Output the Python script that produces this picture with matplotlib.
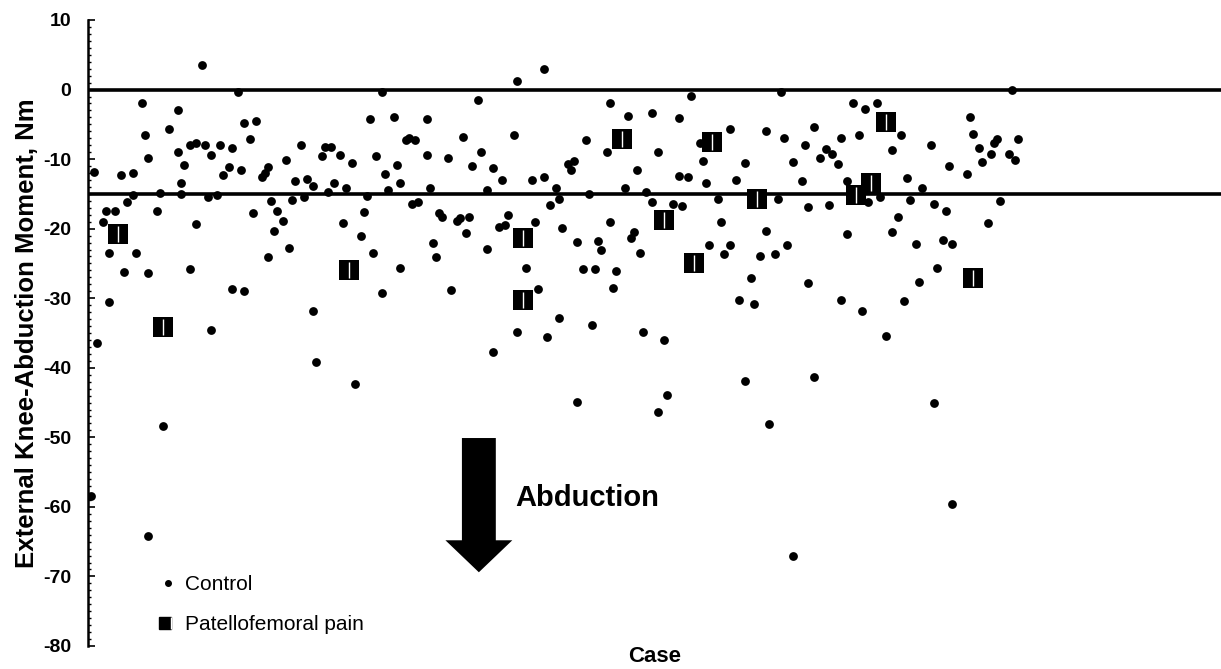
import matplotlib
matplotlib.use('Agg')
import matplotlib.pyplot as plt
from matplotlib.lines import Line2D
from matplotlib.legend_handler import HandlerTuple
from matplotlib.patches import FancyArrow
from matplotlib.ticker import MultipleLocator

plt.rcParams['font.family'] = ['Liberation Sans', 'DejaVu Sans']

# ---------------- data ----------------
control_case = [
    38, 50, 18, 30, 27, 19, 52, 56, 54, 34, 36, 39, 41, 44, 48, 30, 20, 32, 71, 66, 78,
    2, 11, 15, 31, 47, 45, 51, 58, 59, 60, 69, 73, 75,
    15, 13, 24, 31, 40, 43, 61, 68, 72,
    6, 9, 23, 5, 55, 63, 65, 36, 62,
    7, 16, 60, 67, 34, 12, 20, 48, 52, 7, 75, 41,
    3, 1, 20, 25, 76, 89,
    152, 143, 98, 130, 94, 102, 113, 125, 142, 106, 107, 109,
    79, 81, 84, 88, 96, 103, 113, 120, 131, 128, 135, 138,
    99, 104, 82, 148, 152, 156, 80, 86, 93, 100, 114, 133, 108, 110, 154,
    92, 85, 117, 118, 123, 124, 127, 126, 137, 139, 140, 149,
    91, 95, 115, 116, 133, 104, 146, 98, 121, 150, 157, 143, 153, 135, 163,
    185, 192, 193, 190, 219, 227, 242, 235, 266, 282, 288,
    201, 231, 174, 180, 188, 197, 214, 226, 232,
    166, 173, 190, 204, 205, 160, 162, 161, 183, 219, 235,
    197, 200, 206, 216,
    179, 186, 157, 167, 210, 230, 188, 195, 198,
    211, 174, 158, 226, 163, 170, 171, 181, 182, 184, 207, 212, 214, 224, 229, 233,
    165, 169, 176, 175, 221, 217, 222, 168,
    308, 255, 259, 263, 294, 242, 251, 257, 271, 295,
    239, 268, 281, 297, 303, 302, 310, 301, 307, 309, 298,
    246, 244, 248, 250, 287, 293, 238, 253, 273, 278,
    260, 264, 274, 282, 304, 240, 247, 286, 270, 300,
    253, 268, 276, 285, 288, 283, 240, 277, 251, 272, 258,
]
control_moment = [
    3.6, -0.4, -1.9, -3.0, -5.7, -6.5, -4.8, -4.5, -7.1, -7.9, -7.7, -7.9, -9.4, -7.9, -8.4, -9.0, -9.9, -10.8, -7.9, -10.1, -9.6,
    -11.8, -12.3, -12.0, -13.4, -11.2, -12.3, -11.6, -12.6, -12.0, -11.2, -13.1, -12.9, -13.8,
    -15.1, -16.2, -14.9, -15.0, -15.5, -15.1, -16.0, -15.9, -15.5,
    -17.5, -17.5, -17.5, -19.1, -17.7, -17.4, -18.9, -19.4, -20.3,
    -23.5, -23.5, -24.1, -22.8, -25.8, -26.3, -26.4, -28.7, -29.0, -30.6, -31.9, -34.5,
    -36.4, -58.4, -64.2, -48.3, -39.1, -42.4,
    2.9, 1.3, -0.3, -1.5, -4.2, -4.0, -4.2, -6.8, -6.5, -7.3, -6.9, -7.2,
    -8.2, -8.2, -9.4, -10.5, -9.6, -10.8, -9.4, -9.8, -9.0, -11.0, -11.3, -13.0,
    -12.2, -13.5, -13.4, -13.0, -12.6, -14.2, -14.7, -14.2, -15.3, -14.4, -14.2, -14.4, -16.5, -16.1, -16.6,
    -17.6, -19.2, -17.7, -18.3, -18.9, -18.5, -18.3, -20.6, -19.7, -19.5, -18.0, -19.1,
    -21.1, -23.5, -22.0, -24.1, -22.9, -25.6, -25.7, -29.2, -28.8, -28.7, -32.8, -34.9, -35.6, -37.7, -44.9,
    -34.9, -36.0, -43.9, -46.4, -41.9, -48.1, -41.3, -67.0, -35.4, -45.0, -59.6,
    -0.9, -0.4, -2.0, -3.8, -3.4, -4.1, -5.7, -5.9, -6.9,
    -7.3, -9.0, -9.0, -7.7, -10.2, -10.7, -10.3, -11.6, -11.6, -10.5, -10.4,
    -12.4, -12.6, -13.5, -13.0,
    -14.2, -14.7, -15.7, -15.0, -15.8, -15.7, -16.2, -16.5, -16.7,
    -19.1, -19.1, -19.9, -20.3, -21.9, -21.8, -23.0, -21.4, -20.5, -23.5, -22.4, -23.6, -22.4, -23.9, -23.6, -22.3,
    -25.8, -25.8, -26.1, -28.6, -27.1, -30.3, -30.8, -33.9,
    -0.1, -2.0, -2.8, -2.0, -4.0, -5.4, -6.9, -6.5, -6.5, -6.4,
    -8.0, -8.7, -8.0, -8.4, -7.1, -7.7, -7.1, -9.2, -9.2, -10.1, -10.4,
    -8.5, -9.8, -9.2, -10.7, -11.0, -12.2, -13.2, -13.2, -12.7, -14.2,
    -16.2, -15.5, -15.9, -16.4, -16.0, -16.9, -16.6, -17.5, -18.3, -19.2,
    -20.8, -20.5, -22.2, -21.6, -22.2, -25.6, -27.8, -27.6, -30.3, -30.4, -31.8,
]
pfp_case = [10, 25, 87, 145, 145, 178, 208, 192, 223, 202, 266, 261, 256, 295]
pfp_moment = [-20.8, -34.2, -25.9, -21.4, -30.3, -7.1, -7.6, -18.8, -15.8, -25.0, -4.7, -13.5, -15.1, -27.1]

reference_lines = [0, -15]
y_ticks = [10, 0, -10, -20, -30, -40, -50, -60, -70, -80]
y_tick_labels = ['10', '0', '-10', '-20', '-30', '-40', '-50', '-60', '-70', '-80']
legend_labels = ['Control', 'Patellofemoral pain']

assert len(control_case) == len(control_moment)

# ---------------- figure ----------------
W, H = 1221, 669
fig = plt.figure(figsize=(W / 100, H / 100), dpi=100)
ax = fig.add_axes([88 / W, 1 - 646 / H, 1 - 88 / W, (646 - 20) / H])
ax.set_xlim(0, 377.7)
ax.set_ylim(-80, 10)

for yv in reference_lines:
    ax.axhline(yv, color='black', lw=2.6, zorder=2)

ax.scatter(control_case, control_moment, s=40, c='black', marker='o',
           linewidths=0, zorder=3)
ax.scatter(pfp_case, pfp_moment, s=190, c='black', marker='s',
           linewidths=0, zorder=4)
ax.scatter(pfp_case, pfp_moment, s=140, c='white', marker='|',
           linewidths=1.0, zorder=5)

# axes styling
for side in ['top', 'right', 'bottom']:
    ax.spines[side].set_visible(False)
ax.spines['left'].set_linewidth(1.8)
ax.set_xticks([])
ax.set_yticks(y_ticks)
ax.set_yticklabels(y_tick_labels, fontweight='bold')
ax.yaxis.set_minor_locator(MultipleLocator(1))
ax.tick_params(axis='y', which='major', direction='in', length=5, width=1.2,
               labelsize=14, pad=12)
ax.tick_params(axis='y', which='minor', direction='in', length=2.5, width=1)

ax.set_ylabel('External Knee-Abduction Moment, Nm', fontsize=18.5,
              fontweight='bold', labelpad=3)
ax.set_xlabel('Case', fontsize=16, fontweight='bold', labelpad=0)

# abduction arrow + label
ax.add_patch(FancyArrow(130.3, -50.1, 0, -19.3, width=11.3, head_width=22.3,
                        head_length=4.6, length_includes_head=True,
                        color='black', lw=0, zorder=3))
ax.text(142.3, -58.7, 'Abduction', fontsize=21, fontweight='bold',
        va='center', ha='left')

# legend
h_ctrl = Line2D([], [], marker='o', ms=4, color='black', ls='None')
h_pfp_a = Line2D([], [], marker='s', ms=8, color='black', ls='None')
h_pfp_b = Line2D([], [], marker='|', ms=8, color='white', mew=1, ls='None')
ax.legend([h_ctrl, (h_pfp_a, h_pfp_b)], legend_labels,
          handler_map={tuple: HandlerTuple(ndivide=None)},
          loc='center left', bbox_to_anchor=(0.0653, 0.066), frameon=False,
          fontsize=15, handlelength=0.6, handletextpad=0.5, borderpad=0,
          borderaxespad=0, labelspacing=1.0)

fig.savefig('out.png', dpi=100)
